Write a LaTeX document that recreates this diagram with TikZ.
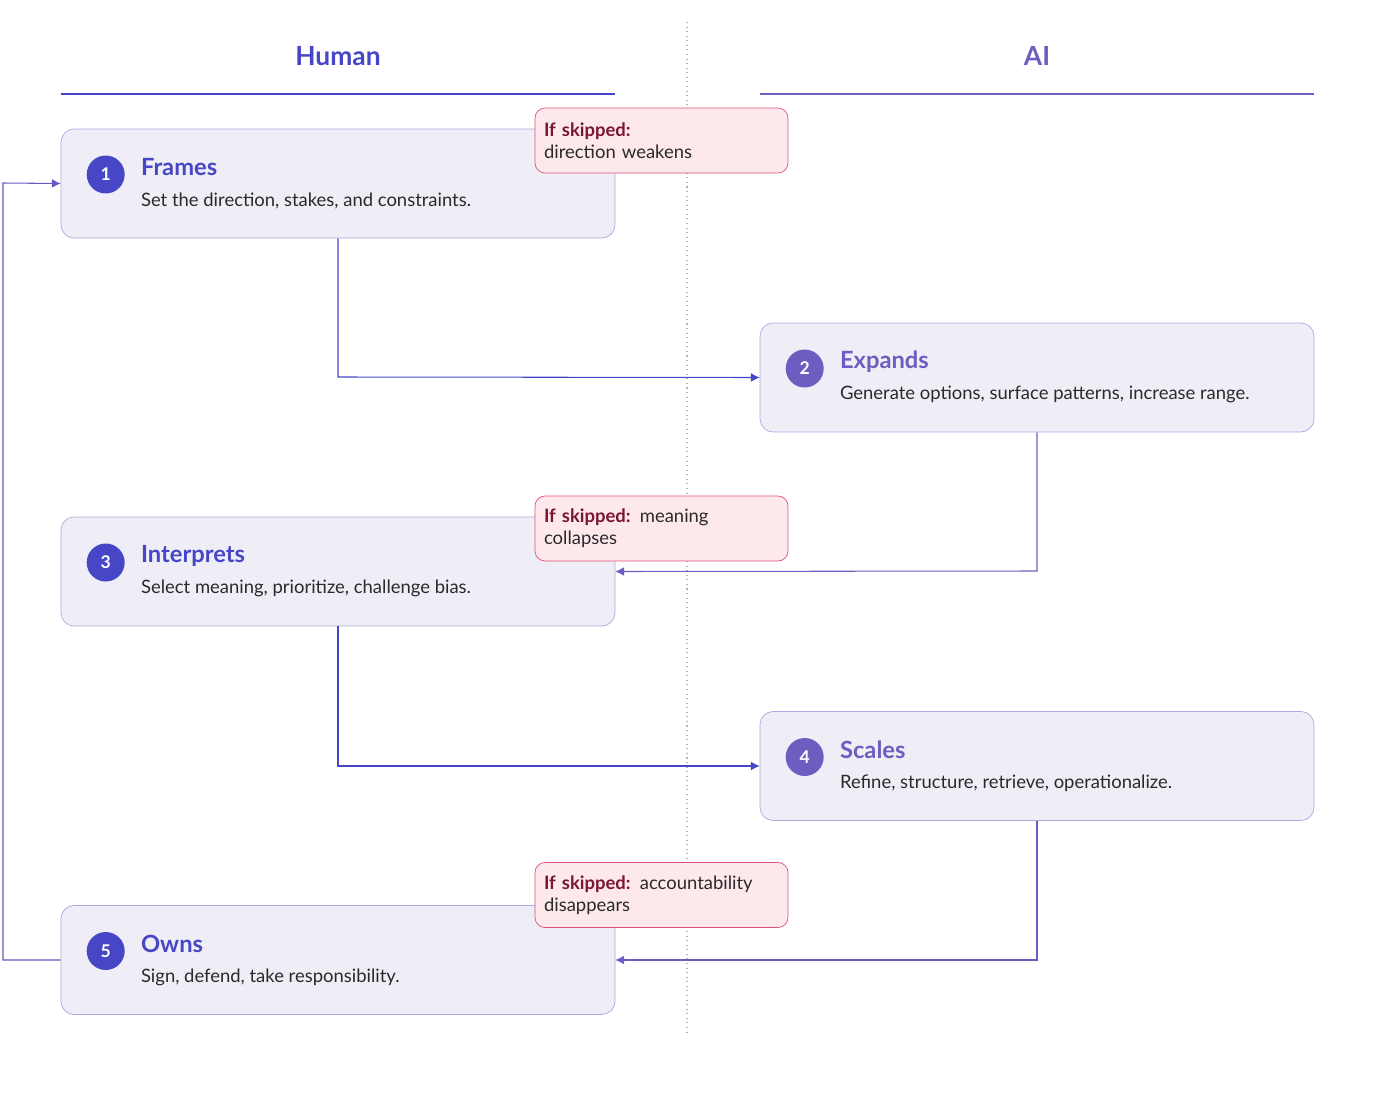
\documentclass[tikz,border=0pt]{standalone}
\usepackage{fontspec}
\setmainfont{Lato}
\usetikzlibrary{arrows.meta,positioning}
\definecolor{humanc}{HTML}{4646C6}
\definecolor{aic}{HTML}{6E5CC0}
\definecolor{boxfill}{HTML}{EFEEF6}
\definecolor{boxline}{HTML}{ABA8E2}
\definecolor{skipfill}{HTML}{FDE8EC}
\definecolor{skipline}{HTML}{E0507A}
\definecolor{skiptext}{HTML}{7A1535}
\definecolor{desctext}{HTML}{2A2A2A}
\tikzset{step box/.style={draw=boxline,fill=boxfill,rounded corners=0.26cm,minimum width=11.08cm,minimum height=2.18cm,inner sep=0pt},
         skip box/.style={draw=skipline,fill=skipfill,rounded corners=0.2cm,minimum width=5.06cm,minimum height=1.3cm,text width=4.7cm,align=left,font=\fontsize{10.5}{12.5}\selectfont,text=desctext,inner sep=0pt},
         num/.style={circle,fill=#1,text=white,minimum size=0.76cm,inner sep=0pt,font=\bfseries\fontsize{10}{12}\selectfont},
         step title/.style={text=#1,anchor=west,inner sep=0pt,font=\bfseries\fontsize{13.5}{16}\selectfont},
         step text/.style={text=desctext,anchor=west,inner sep=0pt,font=\fontsize{10.5}{12.5}\selectfont},
         flow/.style={draw=#1,line width=0.6pt,-{Latex[length=5pt,width=5pt]}},
         }
\newcommand{\skipped}[1]{\textcolor{skiptext}{\bfseries If skipped:}#1}
\begin{document}
\begin{tikzpicture}[x=0.02cm,y=-0.02cm]
\useasboundingbox (0,0) rectangle (1375,1115);
% columns
\draw[gray!60,dotted,line width=0.6pt] (687,22) -- (687,1035);
\node[text=humanc,font=\bfseries\fontsize{15}{18}\selectfont] (hH) at (338,56) {Human};
\node[text=aic,font=\bfseries\fontsize{15}{18}\selectfont] (hA) at (1037,56) {AI};
\draw[humanc,line width=0.7pt] (61,94) -- (615,94);
\draw[aic,line width=0.7pt] (760,94) -- (1314,94);
% steps
\node[step box] (F) at (338,183.5) {};
\node[step box] (E) at (1037,377.5) {};
\node[step box] (I) at (338,571.5) {};
\node[step box] (S) at (1037,766) {};
\node[step box] (O) at (338,960) {};
\foreach \b/\n/\c/\t/\d in {F/1/humanc/Frames/{Set the direction, stakes, and constraints.},
    E/2/aic/Expands/{Generate options, surface patterns, increase range.},
    I/3/humanc/Interprets/{Select meaning, prioritize, challenge bias.},
    S/4/aic/Scales/{Refine, structure, retrieve, operationalize.},
    O/5/humanc/Owns/{Sign, defend, take responsibility.}}{
  \node[num=\c] (\b n) at ([xshift=0.9cm,yshift=0.18cm]\b.west) {\n};
  \node[step title=\c] (\b t) at ([xshift=0.7cm,yshift=0.14cm]\b n.center) {\t};
  \node[step text] (\b d) at ([xshift=0.7cm,yshift=-0.52cm]\b n.center) {\d};
}
% connectors
\coordinate (k1) at (338,377);
\coordinate (k2) at (1037,571);
\coordinate (k3) at (338,766);
\coordinate (k4) at (1037,960);
\coordinate (k5) at (3,960);
\coordinate (k6) at (3,183);
\draw[flow=humanc] (F.south) -- (k1) -- (E.west);
\draw[flow=aic] (E.south) -- (k2) -- (I.east);
\draw[flow=humanc] (I.south) -- (k3) -- (S.west);
\draw[flow=aic] (S.south) -- (k4) -- (O.east);
\draw[flow=aic!80!humanc] (O.west) -- (k5) -- (k6) -- (F.west);
% skip notes
\node[skip box] (sF) at (661.5,140.5) {\skipped{}\\direction weakens};
\node[skip box] (sI) at (661.5,528.5) {\skipped{} meaning\\collapses};
\node[skip box] (sO) at (661.5,895) {\skipped{} accountability\\disappears};
\end{tikzpicture}
\end{document}
